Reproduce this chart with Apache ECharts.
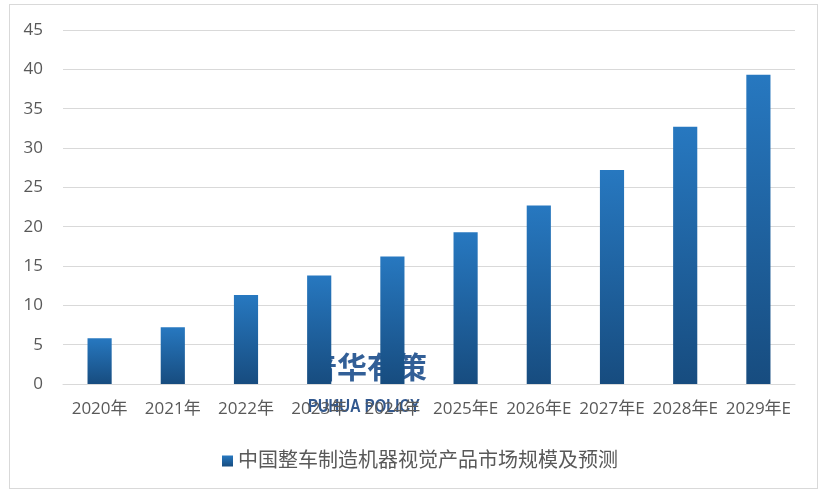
<!DOCTYPE html>
<html>
<head>
<meta charset="utf-8">
<script src="https://cdn.jsdelivr.net/npm/echarts@6/dist/echarts.min.js"></script>
<style>
html,body{margin:0;padding:0;background:#fff;}
#frame{position:absolute;left:9px;top:4px;width:809px;height:485px;border:1px solid #d9d9d9;box-sizing:border-box;}
#c{position:absolute;left:0;top:0;width:826px;height:499px;}
</style>
</head>
<body>
<div id="frame"></div>
<div id="c"></div>
<script>
const categories = ['2020年','2021年','2022年','2023年','2024年','2025年E','2026年E','2027年E','2028年E','2029年E'];
const values = [5.8, 7.2, 11.3, 13.8, 16.2, 19.3, 22.7, 27.2, 32.7, 39.3];
const seriesName = '中国整车制造机器视觉产品市场规模及预测';
const yTicks = {min: 0, max: 45, interval: 5};

const chart = echarts.init(document.getElementById('c'), null, {renderer: 'canvas'});
const font = '"Open Sans", "Noto Sans CJK SC", sans-serif';
chart.setOption({
  animation: false,
  backgroundColor: 'transparent',
  grid: {left: 63, right: 31, top: 30, bottom: 115},
  legend: {
    data: [seriesName],
    top: 446,
    left: 217,
    icon: 'rect',
    itemWidth: 11,
    itemHeight: 11,
    itemGap: 6,
    textStyle: {color: '#595959', fontSize: 20, fontFamily: font}
  },
  xAxis: {
    type: 'category',
    data: categories,
    axisLine: {show: true, lineStyle: {color: '#d9d9d9'}},
    axisTick: {show: false},
    axisLabel: {color: '#595959', fontSize: 17, margin: 17, fontFamily: font, interval: 0}
  },
  yAxis: {
    type: 'value',
    min: yTicks.min, max: yTicks.max, interval: yTicks.interval,
    axisLine: {show: false},
    axisTick: {show: false},
    splitLine: {lineStyle: {color: '#d9d9d9'}},
    axisLabel: {color: '#595959', fontSize: 17, margin: 20, fontFamily: font}
  },
  series: [{
    name: seriesName,
    type: 'bar',
    data: values,
    barWidth: '33%',
    itemStyle: {
      color: new echarts.graphic.LinearGradient(0, 0, 0, 1, [
        {offset: 0, color: '#2778c0'},
        {offset: 1, color: '#174c7f'}
      ])
    }
  }],
  graphic: [
    {type: 'text', left: 307, top: 352, style: {text: '普华有策', fill: 'rgba(28,78,140,0.9)', font: 'bold 30px "Noto Sans CJK SC", sans-serif'}},
    {type: 'text', left: 308, top: 397, scaleX: 0.78, style: {text: 'PUHUA POLICY', fill: 'rgba(28,70,130,0.9)', font: 'bold 19px "Liberation Sans", sans-serif'}}
  ]
});
</script>
</body>
</html>
